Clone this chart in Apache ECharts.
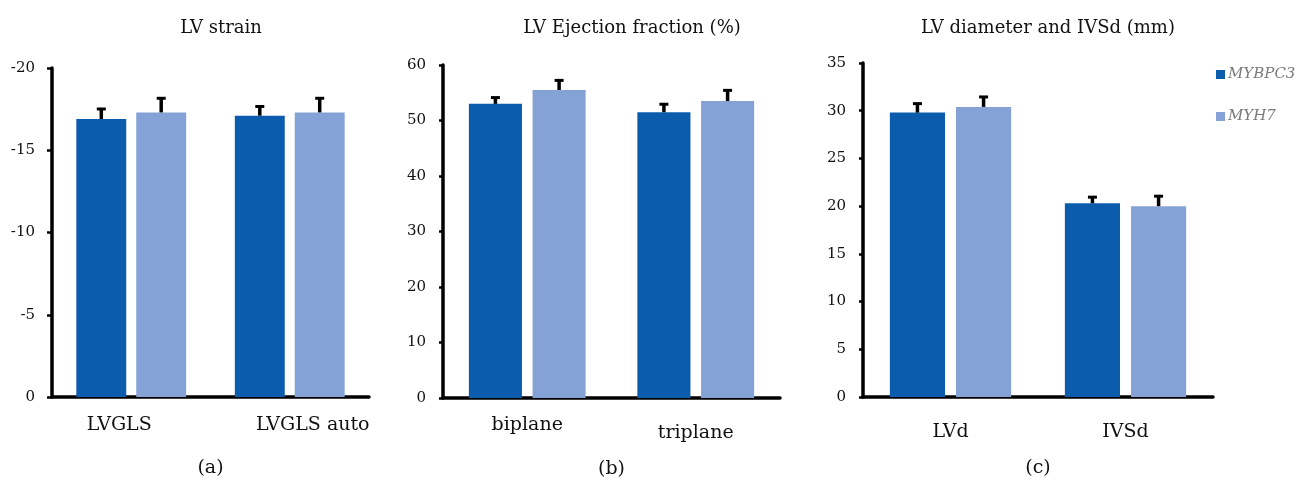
<!DOCTYPE html>
<html><head><meta charset="utf-8">
<script src="https://cdn.jsdelivr.net/npm/echarts@6/dist/echarts.min.js"></script>
<style>html,body{margin:0;padding:0;background:#fff}#c{width:1307px;height:484px}</style>
</head><body><div id="c"></div>
<script>
// ---- data ----
const seriesNames = ['MYBPC3', 'MYH7'];
const titles = ['LV strain', 'LV Ejection fraction (%)', 'LV diameter and IVSd (mm)'];
const panelLabels = ['(a)', '(b)', '(c)'];

const catsA = ['LVGLS', 'LVGLS auto'];
const strainMYBPC3 = [-16.9, -17.1];
const strainMYH7 = [-17.3, -17.3];
const strainErrMYBPC3 = [0.7, 0.65];
const strainErrMYH7 = [0.95, 0.95];
const ticksA = { min: -20, max: 0, interval: 5 };

const catsB = ['biplane', 'triplane'];
const efMYBPC3 = [53.0, 51.5];
const efMYH7 = [55.5, 53.5];
const efErrMYBPC3 = [1.4, 1.7];
const efErrMYH7 = [2.0, 2.2];
const ticksB = { min: 0, max: 60, interval: 10 };

const catsC = ['LVd', 'IVSd'];
const diaMYBPC3 = [29.8, 20.3];
const diaMYH7 = [30.4, 20.0];
const diaErrMYBPC3 = [1.1, 0.8];
const diaErrMYH7 = [1.2, 1.2];
const ticksC = { min: 0, max: 35, interval: 5 };

// ---- styles ----
const FONT = 'DejaVu Serif';
const colors = ['#0b5cad', '#85a2d6'];
const BARW = 0.315, GAP = 0.2;

const panels = [
  { cats: catsA, vals: [strainMYBPC3, strainMYH7], errs: [strainErrMYBPC3, strainErrMYH7], ticks: ticksA, inverse: true,
    grid: { left: 52, top: 68, width: 317, height: 329 }, tickLen: 5,
    labelRich: [{ padding: [0, 24, 0, 0] }, { padding: [0, 0, 0, 46] }], labelMargin: 19, titleX: 216 },
  { cats: catsB, vals: [efMYBPC3, efMYH7], errs: [efErrMYBPC3, efErrMYH7], ticks: ticksB, inverse: false,
    grid: { left: 443, top: 65, width: 337, height: 333 }, tickLen: 4,
    labelRich: [{ padding: [0, 0, 0, 0] }, { padding: [8, 0, 0, 0] }], labelMargin: 18, titleX: 627 },
  { cats: catsC, vals: [diaMYBPC3, diaMYH7], errs: [diaErrMYBPC3, diaErrMYH7], ticks: ticksC, inverse: false,
    grid: { left: 863, top: 63, width: 350, height: 334 }, tickLen: 4,
    labelRich: [{ padding: [8, 0, 0, 0] }, { padding: [8, 0, 0, 0] }], labelMargin: 18, titleX: 1043 }
];

const option = {
  animation: false,
  backgroundColor: '#fff',
  title: panels.map((p, i) => ({
    text: titles[i], left: p.titleX, top: 14, textAlign: 'center',
    textStyle: { fontFamily: FONT, fontSize: 18, fontWeight: 'normal', color: '#111' }
  })),
  legend: {
    data: seriesNames, orient: 'vertical', left: 1211, top: 62, itemWidth: 9, itemHeight: 9,
    itemGap: 27, icon: 'rect', selectedMode: false,
    textStyle: { fontFamily: FONT, fontSize: 15, fontStyle: 'italic', color: '#7a7a7a', padding: [0, 0, 0, -2] }
  },
  grid: panels.map(p => p.grid),
  xAxis: panels.map((p, i) => ({
    type: 'category', gridIndex: i, data: p.cats,
    axisLine: { onZero: false, lineStyle: { color: '#000', width: 3.5 } },
    axisTick: { show: false },
    axisLabel: {
      interval: 0, hideOverlap: false,
      margin: p.labelMargin, color: '#111', fontFamily: FONT, fontSize: 19,
      formatter: (v, idx) => '{r' + idx + '|' + v + '}',
      rich: { r0: Object.assign({ fontFamily: FONT, fontSize: 19, color: '#111' }, p.labelRich[0]),
              r1: Object.assign({ fontFamily: FONT, fontSize: 19, color: '#111' }, p.labelRich[1]) }
    },
    name: panelLabels[i], nameLocation: 'middle', nameGap: 62,
    nameTextStyle: { fontFamily: FONT, fontSize: 19, color: '#111' }
  })),
  yAxis: panels.map((p, i) => ({
    type: 'value', gridIndex: i, min: p.ticks.min, max: p.ticks.max, interval: p.ticks.interval,
    inverse: p.inverse,
    splitLine: { show: false },
    axisLine: { show: true, lineStyle: { color: '#000', width: 3.5 } },
    axisTick: { show: true, length: p.tickLen, lineStyle: { color: '#000', width: 2.5 } },
    axisLabel: { margin: 17, color: '#111', fontFamily: FONT, fontSize: 15 }
  })),
  series: []
};

panels.forEach((p, gi) => {
  seriesNames.forEach((name, si) => {
    option.series.push({
      type: 'bar', name: name, xAxisIndex: gi, yAxisIndex: gi,
      data: p.vals[si], barWidth: (BARW * 100) + '%', barGap: (GAP * 100) + '%',
      itemStyle: { color: colors[si] }, z: 2
    });
  });
  seriesNames.forEach((name, si) => {
    const sign = p.inverse ? -1 : 1;
    option.series.push({
      type: 'custom', name: name + ' err', xAxisIndex: gi, yAxisIndex: gi, z: 3,
      data: p.cats.map((c, k) => [k, p.vals[si][k], p.vals[si][k] + sign * p.errs[si][k]]),
      renderItem: (params, api) => {
        const band = api.size([1, 0])[0];
        const w = band * BARW;
        const off = (si === 0 ? -1 : 1) * (w * (1 + GAP)) / 2;
        const base = api.coord([api.value(0), api.value(1)]);
        const top = api.coord([api.value(0), api.value(2)]);
        const x = base[0] + off;
        return {
          type: 'group', children: [
            { type: 'line', shape: { x1: x, y1: base[1], x2: x, y2: top[1] + 1 }, style: { stroke: '#000', lineWidth: 3.5 } },
            { type: 'line', shape: { x1: x - 4.5, y1: top[1] + 1.5, x2: x + 4.5, y2: top[1] + 1.5 }, style: { stroke: '#000', lineWidth: 3 } }
          ]
        };
      }
    });
  });
});

const chart = echarts.init(document.getElementById('c'), null, { renderer: 'canvas' });
chart.setOption(option);
</script>
</body></html>
